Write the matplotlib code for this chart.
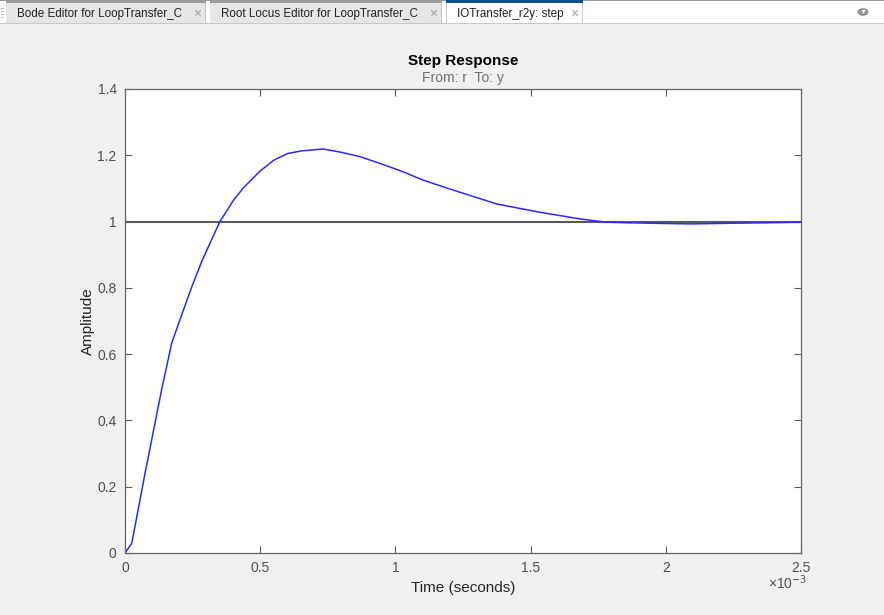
import matplotlib
matplotlib.use("Agg")
import matplotlib.pyplot as plt
from matplotlib.patches import Rectangle, Circle

plt.rcParams['font.family'] = ['Liberation Sans', 'DejaVu Sans']

# step response (time in ms)
time_ms = [0.0, 0.025, 0.074, 0.136, 0.173, 0.216, 0.247, 0.284, 0.32, 0.351,
           0.40, 0.438, 0.499, 0.55, 0.60, 0.65, 0.733, 0.80, 0.869, 0.955,
           1.029, 1.103, 1.199, 1.26, 1.375, 1.535, 1.683, 1.781, 1.942,
           2.089, 2.249, 2.5]
amplitude = [0.0, 0.029, 0.240, 0.495, 0.634, 0.733, 0.803, 0.880, 0.945,
             1.000, 1.063, 1.102, 1.152, 1.185, 1.205, 1.213, 1.219, 1.209,
             1.196, 1.172, 1.150, 1.125, 1.099, 1.083, 1.053, 1.028, 1.008,
             0.998, 0.995, 0.993, 0.995, 0.998]
final_value = 1.0

xticks = [0, 0.5, 1, 1.5, 2, 2.5]
xticklabels = ['0', '0.5', '1', '1.5', '2', '2.5']
yticks = [0, 0.2, 0.4, 0.6, 0.8, 1, 1.2, 1.4]
yticklabels = ['0', '0.2', '0.4', '0.6', '0.8', '1', '1.2', '1.4']

tab_names = ['Bode Editor for LoopTransfer_C',
             'Root Locus Editor for LoopTransfer_C',
             'IOTransfer_r2y: step']

W, H = 884, 615
fig = plt.figure(figsize=(W / 100, H / 100), dpi=100, facecolor='#f0f0f0')


def px(x, y):
    return x / W, 1 - y / H


def box(x0, y0, x1, y1, color):
    fx, fy = px(x0, y1)
    fig.patches.append(Rectangle((fx, fy), (x1 - x0) / W, (y1 - y0) / H,
                                 transform=fig.transFigure, facecolor=color,
                                 edgecolor='none', zorder=0))


# tab strip
box(0, 0, W, 23, 'white')
box(0, 0, W, 1, '#9a9a9a')
box(0, 23, W, 24, '#c8c8c8')
tab_edges = [(6, 206), (210, 442), (446, 583)]
for i, (name, (a, b)) in enumerate(zip(tab_names, tab_edges)):
    active = i == 2
    box(a, 1, b, 23, 'white' if active else '#e6e6e6')
    box(a, 0, b, 3, '#0b4f86' if active else '#9a9a9a')
    if not active:
        box(b - 1, 3, b, 23, '#c8c8c8')
    else:
        box(a, 3, a + 1, 24, '#c8c8c8')
        box(b - 1, 3, b, 24, '#c8c8c8')
    fig.text(*px(a + 11, 14), name, fontsize=8.4, color='#222222',
             va='center', ha='left')
    fig.text(*px(b - 9, 14), '\u00d7', fontsize=10, color='#a0a0a0',
             va='center', ha='center')
for gy in (8, 11, 14, 17):
    box(1, gy, 4, gy + 1, '#c0c0c0')
fig.patches.append(Circle(px(863, 12), 5.5 / W, transform=fig.transFigure,
                          facecolor='#909090', edgecolor='none'))
fig.text(*px(863, 12), '\u25bc', fontsize=5, color='white',
         ha='center', va='center')

ax = fig.add_axes([125 / W, (H - 553) / H, 676 / W, 464 / H])
ax.set_facecolor('white')

ax.axhline(final_value, color='#5a5a5a', linewidth=1.5, zorder=1)
ax.plot(time_ms, amplitude, color='#2a2aff', linewidth=1.1, zorder=2)

ax.set_xlim(0, 2.5)
ax.set_ylim(0, 1.4)
ax.set_xticks(xticks)
ax.set_xticklabels(xticklabels)
ax.set_yticks(yticks)
ax.set_yticklabels(yticklabels)
ax.tick_params(direction='in', length=5, width=0.8, colors='#606060',
               labelcolor='#505050', labelsize=10, top=True, right=True,
               pad=6)
for s in ax.spines.values():
    s.set_color('#666666')
    s.set_linewidth(0.9)

ax.set_xlabel('Time (seconds)', fontsize=11, color='#262626', labelpad=4)
ax.set_ylabel('Amplitude', fontsize=11, color='#262626', labelpad=2)

fig.text(*px(463, 61), 'Step Response', fontsize=11, fontweight='bold',
         ha='center', va='center', color='#000000')
fig.text(*px(463, 78), 'From: r  To: y', fontsize=10, ha='center',
         va='center', color='#707070')
fig.text(*px(768, 583), '\u00d710$^{-3}$', fontsize=10, ha='left',
         va='center', color='#505050')

fig.savefig('out.png', dpi=100, facecolor=fig.get_facecolor())
